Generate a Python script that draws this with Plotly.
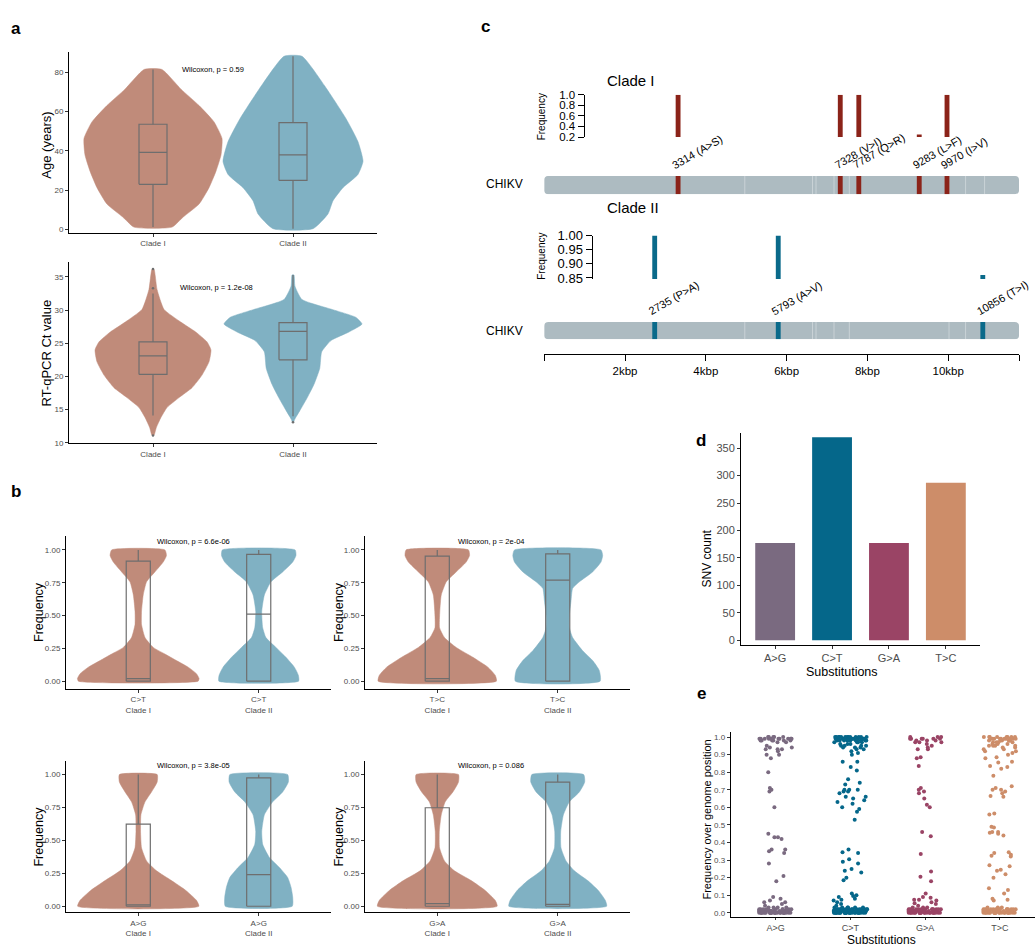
import plotly.graph_objects as go

W, H = 1035, 950
FONT = "Liberation Sans, Arial, Helvetica, sans-serif"
BROWN = "#C08B7A"
TEAL = "#80B1C3"
BOXLINE = "#6E6E6E"
TICKGRAY = "#4D4D4D"

# ---------------- panel a: age and Ct value per clade ----------------
CLADES = ["Clade I", "Clade II"]

# violin outlines: value levels (top to bottom) and half-width (density, category units)
AGE_LEVELS_I = [81.3, 71.3, 63.0, 54.7, 46.3, 38.0, 29.7, 21.3, 13.0, 6.3, 1.3]
AGE_DENS_I = [0.064, 0.20, 0.329, 0.436, 0.493, 0.486, 0.45, 0.40, 0.329, 0.214, 0.136]
AGE_LEVELS_II = [88.0, 73.0, 56.3, 44.7, 34.7, 28.0, 21.3, 14.7, 8.0, 0.5]
AGE_DENS_II = [0.064, 0.226, 0.379, 0.464, 0.50, 0.464, 0.357, 0.286, 0.25, 0.143]
AGE_Q1 = [23.0, 25.0]
AGE_MED = [39.2, 38.0]
AGE_Q3 = [53.5, 54.3]
AGE_LO = [1.3, 0.5]
AGE_HI = [81.3, 88.0]

CT_LEVELS_I = [36.2, 33.1, 30.1, 28.2, 26.7, 25.2, 24.0, 22.2, 20.2, 18.3, 16.8, 15.3, 13.8, 12.3, 11.1]
CT_DENS_I = [0.007, 0.029, 0.079, 0.198, 0.305, 0.386, 0.414, 0.40, 0.35, 0.279, 0.186, 0.10, 0.057, 0.024, 0.007]
CT_LEVELS_II = [35.3, 33.6, 31.6, 30.1, 28.9, 27.9, 26.7, 25.4, 23.7, 21.2, 18.8, 16.8, 14.8, 13.6, 13.1]
CT_DENS_II = [0.007, 0.014, 0.064, 0.279, 0.45, 0.493, 0.40, 0.271, 0.205, 0.191, 0.15, 0.102, 0.048, 0.014, 0.004]
CT_Q1 = [20.3, 22.5]
CT_MED = [23.1, 26.8]
CT_Q3 = [25.2, 28.1]
CT_LO = [14.1, 14.0]
CT_HI = [32.5, 35.3]
CT_OUT_I = [36.2, 33.3, 11.1]
CT_OUT_II = [13.1]

AGE_P = "Wilcoxon, p = 0.59"
CT_P = "Wilcoxon, p = 1.2e-08"

# ---------------- panel b: SNV frequency per substitution type ----------------
B_SUBS = ["C>T", "T>C", "A>G", "G>A"]
B_PVALS = ["Wilcoxon, p = 6.6e-06", "Wilcoxon, p = 2e-04", "Wilcoxon, p = 3.8e-05", "Wilcoxon, p = 0.086"]

CT_B_LEVELS_I = [1.0, 0.957, 0.907, 0.832, 0.757, 0.657, 0.532, 0.432, 0.332, 0.257, 0.207, 0.157, 0.107, 0.057, 0.02, 0.0]
CT_B_DENS_I = [0.221, 0.234, 0.207, 0.138, 0.069, 0.041, 0.027, 0.027, 0.056, 0.124, 0.221, 0.317, 0.414, 0.483, 0.505, 0.497]
CT_B_LEVELS_II = [1.0, 0.957, 0.907, 0.832, 0.757, 0.657, 0.532, 0.407, 0.332, 0.257, 0.182, 0.107, 0.045, 0.0]
CT_B_DENS_II = [0.302, 0.309, 0.282, 0.199, 0.102, 0.047, 0.025, 0.033, 0.06, 0.143, 0.226, 0.296, 0.329, 0.331]

TC_B_LEVELS_I = [1.0, 0.957, 0.907, 0.832, 0.757, 0.657, 0.532, 0.407, 0.332, 0.257, 0.182, 0.107, 0.045, 0.0]
TC_B_DENS_I = [0.259, 0.268, 0.24, 0.157, 0.075, 0.033, 0.021, 0.019, 0.06, 0.157, 0.296, 0.42, 0.481, 0.491]
TC_B_LEVELS_II = [1.0, 0.957, 0.907, 0.832, 0.757, 0.707, 0.607, 0.507, 0.407, 0.332, 0.232, 0.157, 0.082, 0.0]
TC_B_DENS_II = [0.359, 0.373, 0.359, 0.29, 0.18, 0.124, 0.11, 0.097, 0.097, 0.124, 0.207, 0.29, 0.345, 0.352]

AG_B_LEVELS_I = [1.0, 0.943, 0.868, 0.793, 0.694, 0.569, 0.444, 0.344, 0.269, 0.195, 0.12, 0.045, 0.0]
AG_B_DENS_I = [0.157, 0.157, 0.11, 0.056, 0.022, 0.019, 0.027, 0.069, 0.152, 0.276, 0.395, 0.483, 0.503]
AG_B_LEVELS_II = [1.0, 0.943, 0.868, 0.793, 0.694, 0.569, 0.47, 0.37, 0.294, 0.219, 0.145, 0.07, 0.0]
AG_B_DENS_II = [0.24, 0.246, 0.199, 0.116, 0.047, 0.025, 0.033, 0.089, 0.172, 0.24, 0.268, 0.282, 0.278]

GA_B_LEVELS_I = [1.0, 0.943, 0.868, 0.793, 0.694, 0.569, 0.444, 0.344, 0.269, 0.195, 0.12, 0.045, 0.0]
GA_B_DENS_I = [0.176, 0.176, 0.13, 0.066, 0.033, 0.017, 0.019, 0.06, 0.143, 0.282, 0.398, 0.481, 0.497]
GA_B_LEVELS_II = [1.0, 0.943, 0.868, 0.793, 0.694, 0.569, 0.444, 0.344, 0.269, 0.195, 0.12, 0.045, 0.0]
GA_B_DENS_II = [0.215, 0.224, 0.18, 0.097, 0.047, 0.025, 0.027, 0.069, 0.138, 0.249, 0.337, 0.395, 0.406]

# box statistics [Clade I, Clade II] per substitution
B_Q1 = {"C>T": [0.0, 0.0], "T>C": [0.0, 0.0], "A>G": [0.0, 0.0], "G>A": [0.0, 0.0]}
B_MED = {"C>T": [0.02, 0.51], "T>C": [0.02, 0.77], "A>G": [0.01, 0.24], "G>A": [0.02, 0.015]}
B_Q3 = {"C>T": [0.915, 0.965], "T>C": [0.953, 0.97], "A>G": [0.624, 0.975], "G>A": [0.748, 0.943]}
B_HI = {"C>T": [1.0, 1.0], "T>C": [1.0, 1.0], "A>G": [1.0, 1.0], "G>A": [1.0, 1.0]}

# ---------------- panel c: genome map of clade-defining SNVs ----------------
GENOME_LEN = 11752
GENE_BOUNDARIES = [4965, 6641, 6728, 7173, 7552, 10020, 10430, 10900]
CLADE1_POS = [3314, 7328, 7787, 9283, 9970]
CLADE1_AA = ["A>S", "V>I", "Q>R", "L>F", "I>V"]
CLADE1_FREQ = [1.0, 1.0, 1.0, 0.25, 1.0]
CLADE2_POS = [2735, 5793, 10856]
CLADE2_AA = ["P>A", "A>V", "T>I"]
CLADE2_FREQ = [1.0, 1.0, 0.86]
KB_TICKS = [0, 2000, 4000, 6000, 8000, 10000, GENOME_LEN]
KB_LABELS = ["", "2kbp", "4kbp", "6kbp", "8kbp", "10kbp", ""]

# ---------------- panel d/e: substitution spectrum ----------------
SUBS = ["A>G", "C>T", "G>A", "T>C"]
SUB_COLORS = ["#7A6A80", "#05678A", "#9A4465", "#CD8D69"]
SNV_COUNTS = [177, 370, 177, 287]

AG_FREQ = [
    1.00, 0.99, 0.99, 0.98, 0.99, 1.00, 0.98, 0.99, 0.97, 0.99, 1.00, 0.98,
    0.99, 0.99, 0.98, 0.97, 0.99, 1.00, 0.98, 0.99, 0.99, 0.98, 1.00, 0.99,
    0.95, 0.94, 0.93, 0.93, 0.92, 0.94, 0.90, 0.88, 0.90, 0.93,
    0.80, 0.71, 0.70, 0.69, 0.60,
    0.45, 0.43, 0.43, 0.42, 0.36, 0.36, 0.35, 0.34, 0.28,
    0.21, 0.18,
    0.09, 0.08, 0.07, 0.06, 0.06, 0.05, 0.04, 0.03, 0.03,
    0.02, 0.01, 0.00, 0.01, 0.00, 0.02, 0.01, 0.00, 0.00, 0.01,
    0.00, 0.01, 0.02, 0.00, 0.01, 0.00, 0.00, 0.02, 0.01, 0.00,
    0.01, 0.00, 0.00, 0.01, 0.03, 0.00, 0.01, 0.02, 0.00, 0.01,
    0.00, 0.01, 0.00, 0.02, 0.01, 0.00, 0.00, 0.01, 0.00, 0.01,
    0.02, 0.00, 0.01, 0.00, 0.00, 0.01, 0.02, 0.00, 0.01, 0.00,
    0.00, 0.01, 0.00, 0.03, 0.01, 0.00, 0.02, 0.00, 0.01, 0.00,
]
CT_FREQ = [
    1.00, 0.99, 1.00, 0.99, 0.98, 1.00, 0.99, 0.98, 0.97, 1.00, 0.99, 0.99,
    1.00, 0.98, 0.99, 0.96, 1.00, 0.99, 0.98, 0.99, 1.00, 0.97, 0.99, 0.98,
    1.00, 0.99, 0.95, 0.99, 1.00, 0.98, 0.94, 0.99, 1.00, 0.97, 0.95, 0.99,
    0.93, 0.98, 1.00, 0.96, 0.94, 0.99, 0.95, 0.98, 1.00, 0.99, 0.93, 0.97,
    0.99, 0.98, 1.00, 0.95, 0.96, 0.99, 0.94, 0.98,
    0.92, 0.91, 0.90, 0.86, 0.86, 0.83, 0.81,
    0.76, 0.74, 0.73, 0.70, 0.70, 0.70, 0.69, 0.69, 0.68, 0.66, 0.66, 0.65,
    0.64, 0.63, 0.62, 0.60, 0.59, 0.575, 0.53,
    0.36, 0.345, 0.34, 0.305, 0.29, 0.28, 0.25, 0.24, 0.23, 0.20, 0.185,
    0.11, 0.10, 0.095, 0.09, 0.08, 0.075, 0.07, 0.06, 0.05, 0.04, 0.03,
    0.00, 0.01, 0.02, 0.00, 0.01, 0.00, 0.03, 0.01, 0.02, 0.00,
    0.01, 0.00, 0.02, 0.01, 0.00, 0.00, 0.01, 0.02, 0.00, 0.01,
    0.02, 0.01, 0.00, 0.01, 0.03, 0.00, 0.02, 0.01, 0.00, 0.01,
    0.00, 0.02, 0.01, 0.00, 0.01, 0.02, 0.00, 0.01, 0.00, 0.02,
    0.01, 0.00, 0.03, 0.01, 0.00, 0.02, 0.01, 0.00, 0.01, 0.00,
    0.02, 0.00, 0.01, 0.00, 0.02, 0.01, 0.03, 0.00, 0.01, 0.02,
    0.00, 0.01, 0.00, 0.02, 0.01, 0.00, 0.01, 0.02, 0.00, 0.01,
    0.01, 0.00, 0.02, 0.01, 0.00, 0.03, 0.00, 0.01, 0.02, 0.00,
]
GA_FREQ = [
    1.00, 0.99, 0.99, 1.00, 0.98, 0.99, 0.99, 1.00, 0.98, 0.99, 0.97, 0.97,
    0.96, 0.97, 0.95, 0.93, 0.93, 0.94, 0.99, 0.98,
    0.885, 0.88, 0.835,
    0.71, 0.70, 0.69, 0.68, 0.65, 0.615, 0.60,
    0.46, 0.435, 0.335, 0.235, 0.205, 0.18,
    0.11, 0.09, 0.085, 0.075, 0.075, 0.07, 0.06, 0.055, 0.05, 0.04,
    0.00, 0.01, 0.02, 0.00, 0.01, 0.00, 0.03, 0.01, 0.02, 0.00,
    0.01, 0.00, 0.02, 0.01, 0.00, 0.00, 0.01, 0.02, 0.00, 0.01,
    0.02, 0.01, 0.00, 0.01, 0.03, 0.00, 0.02, 0.01, 0.00, 0.01,
    0.00, 0.02, 0.01, 0.00, 0.01, 0.02, 0.00, 0.01, 0.00, 0.02,
    0.01, 0.00, 0.03, 0.01, 0.00, 0.02, 0.01, 0.00, 0.01, 0.00,
    0.02, 0.00, 0.01, 0.00, 0.02, 0.01, 0.00, 0.00, 0.01, 0.02,
]
TC_FREQ = [
    1.00, 0.99, 0.98, 1.00, 0.99, 0.97, 0.99, 1.00, 0.98, 0.99, 0.96, 1.00,
    0.99, 0.98, 0.95, 0.99, 1.00, 0.97, 0.94, 0.99, 0.98, 1.00, 0.96, 0.95,
    0.99, 0.93, 0.97, 1.00, 0.99, 0.92, 0.98, 0.95, 0.94, 0.99, 0.91, 0.97,
    1.00, 0.96, 0.93, 0.98, 0.90, 0.99, 0.95, 0.92,
    0.88, 0.885, 0.86, 0.855, 0.835, 0.83, 0.82, 0.78,
    0.72, 0.71, 0.70, 0.70, 0.69, 0.68, 0.665, 0.66,
    0.565, 0.56, 0.49, 0.485, 0.46, 0.46, 0.455, 0.45, 0.44,
    0.345, 0.34, 0.33, 0.325, 0.32, 0.27, 0.265, 0.245, 0.24, 0.22, 0.20,
    0.14, 0.13, 0.11, 0.08, 0.075, 0.07,
    0.00, 0.01, 0.02, 0.00, 0.01, 0.00, 0.03, 0.01, 0.02, 0.00,
    0.01, 0.00, 0.02, 0.01, 0.00, 0.00, 0.01, 0.02, 0.00, 0.01,
    0.02, 0.01, 0.00, 0.01, 0.03, 0.00, 0.02, 0.01, 0.00, 0.01,
    0.00, 0.02, 0.01, 0.00, 0.01, 0.02, 0.00, 0.01, 0.00, 0.02,
    0.01, 0.00, 0.03, 0.01, 0.00, 0.02, 0.01, 0.00, 0.01, 0.00,
    0.02, 0.00, 0.01, 0.00, 0.02, 0.01, 0.00, 0.00, 0.01, 0.02,
]
E_VALUES = [AG_FREQ, CT_FREQ, GA_FREQ, TC_FREQ]


# ---------------- helpers ----------------
def px(x):
    return x / W


def py(y):
    return 1 - y / H


def dom_x(a, b):
    return [px(a), px(b)]


def dom_y(top, bottom):
    return [py(bottom), py(top)]


def violin_xy(center, levels, dens):
    xs = [center + d for d in dens] + [center - d for d in reversed(dens)]
    ys = list(levels) + list(reversed(levels))
    xs.append(xs[0])
    ys.append(ys[0])
    return xs, ys


def axis_style(**kw):
    base = dict(showline=True, linecolor="black", linewidth=1, ticks="outside",
                ticklen=3, tickwidth=1, tickcolor="#333333", showgrid=False,
                zeroline=False, fixedrange=True,
                tickfont=dict(family=FONT, size=8, color=TICKGRAY))
    base.update(kw)
    return base


fig = go.Figure()
annotations = []
shapes = []


def label(x, y, text, size, color="black", angle=0, xanchor="center", yanchor="middle"):
    annotations.append(dict(x=px(x), y=py(y), xref="paper", yref="paper", text=text,
                            showarrow=False, textangle=angle, xanchor=xanchor, yanchor=yanchor,
                            font=dict(family=FONT, size=size, color=color)))


def add_violins(axis_id, shapes_list, colors):
    for i, (levels, dens) in enumerate(shapes_list):
        xs, ys = violin_xy(i, levels, dens)
        fig.add_trace(go.Scatter(
            x=xs, y=ys, mode="lines", fill="toself", fillcolor=colors[i],
            line=dict(color=colors[i], width=0.5, shape="spline", smoothing=0.5),
            xaxis="x" + axis_id, yaxis="y" + axis_id, hoverinfo="skip"))


BOX_HALF = 0.1


def add_box(axis_id, q1, med, q3, lo, hi):
    # box-and-whisker outline drawn on top of the violins
    xs, ys = [], []
    for i in range(len(q1)):
        l, r = i - BOX_HALF, i + BOX_HALF
        xs += [l, r, r, l, l, None, l, r, None, i, i, None, i, i, None]
        ys += [q1[i], q1[i], q3[i], q3[i], q1[i], None, med[i], med[i], None,
               q3[i], hi[i], None, lo[i], q1[i], None]
    fig.add_trace(go.Scatter(x=xs, y=ys, mode="lines", line=dict(color=BOXLINE, width=1.2),
                             xaxis="x" + axis_id, yaxis="y" + axis_id, hoverinfo="skip",
                             connectgaps=False))


# ---------------- panel a ----------------
add_violins("", [(AGE_LEVELS_I, AGE_DENS_I), (AGE_LEVELS_II, AGE_DENS_II)], [BROWN, TEAL])
add_box("", AGE_Q1, AGE_MED, AGE_Q3, AGE_LO, AGE_HI)

add_violins("2", [(CT_LEVELS_I, CT_DENS_I), (CT_LEVELS_II, CT_DENS_II)], [BROWN, TEAL])
add_box("2", CT_Q1, CT_MED, CT_Q3, CT_LO, CT_HI)
for i, outs in enumerate([CT_OUT_I, CT_OUT_II]):
    fig.add_trace(go.Scatter(x=[i] * len(outs), y=outs, mode="markers",
                             marker=dict(color=BOXLINE, size=2.5),
                             xaxis="x2", yaxis="y2", hoverinfo="skip"))

# ---------------- panel b ----------------
B_SHAPES = {
    "C>T": [(CT_B_LEVELS_I, CT_B_DENS_I), (CT_B_LEVELS_II, CT_B_DENS_II)],
    "T>C": [(TC_B_LEVELS_I, TC_B_DENS_I), (TC_B_LEVELS_II, TC_B_DENS_II)],
    "A>G": [(AG_B_LEVELS_I, AG_B_DENS_I), (AG_B_LEVELS_II, AG_B_DENS_II)],
    "G>A": [(GA_B_LEVELS_I, GA_B_DENS_I), (GA_B_LEVELS_II, GA_B_DENS_II)],
}
for k, sub in enumerate(B_SUBS):
    aid = str(3 + k)
    add_violins(aid, B_SHAPES[sub], [BROWN, TEAL])
    add_box(aid, B_Q1[sub], B_MED[sub], B_Q3[sub], B_Q1[sub], B_HI[sub])

# ---------------- panel d ----------------
fig.add_trace(go.Bar(x=SUBS, y=SNV_COUNTS, marker=dict(color=SUB_COLORS, line=dict(width=0)),
                     width=0.7, xaxis="x7", yaxis="y7", hoverinfo="skip"))

# ---------------- panel e ----------------
for name, vals, col in zip(SUBS, E_VALUES, SUB_COLORS):
    fig.add_trace(go.Box(
        x=[name] * len(vals), y=vals, boxpoints="all", jitter=0.9, pointpos=0,
        width=0.5, fillcolor="rgba(0,0,0,0)", line=dict(color="rgba(0,0,0,0)", width=0),
        marker=dict(color=col, size=4), xaxis="x8", yaxis="y8", hoverinfo="skip"))

# ---------------- panel c ----------------
RED = "#8B2319"
BLUE = "#0A6A8A"
TRACK = "#ADBBC1"
BAR_W = 120

fig.add_trace(go.Bar(x=CLADE1_POS, y=CLADE1_FREQ, width=BAR_W, marker=dict(color=RED, line=dict(width=0)),
                     xaxis="x9", yaxis="y9", hoverinfo="skip"))
fig.add_trace(go.Bar(x=CLADE1_POS, y=[1] * len(CLADE1_POS), width=BAR_W,
                     marker=dict(color=RED, line=dict(width=0)),
                     xaxis="x9", yaxis="y10", hoverinfo="skip"))
fig.add_trace(go.Bar(x=CLADE2_POS, y=CLADE2_FREQ, width=BAR_W, marker=dict(color=BLUE, line=dict(width=0)),
                     xaxis="x9", yaxis="y11", hoverinfo="skip"))
fig.add_trace(go.Bar(x=CLADE2_POS, y=[1] * len(CLADE2_POS), width=BAR_W,
                     marker=dict(color=BLUE, line=dict(width=0)),
                     xaxis="x9", yaxis="y12", hoverinfo="skip"))


def rounded_track(yref, rx, ry):
    x0, x1, y0, y1 = 0, GENOME_LEN, 0, 1
    path = (f"M {x0 + rx},{y0} L {x1 - rx},{y0} Q {x1},{y0} {x1},{y0 + ry} "
            f"L {x1},{y1 - ry} Q {x1},{y1} {x1 - rx},{y1} L {x0 + rx},{y1} "
            f"Q {x0},{y1} {x0},{y1 - ry} L {x0},{y0 + ry} Q {x0},{y0} {x0 + rx},{y0} Z")
    return dict(type="path", path=path, xref="x9", yref=yref, fillcolor=TRACK,
                line=dict(width=0), layer="below")


for yref in ["y10", "y12"]:
    shapes.append(rounded_track(yref, 110, 0.22))
    for b in GENE_BOUNDARIES:
        shapes.append(dict(type="line", x0=b, x1=b, y0=0, y1=1, xref="x9", yref=yref,
                           line=dict(color="rgba(255,255,255,0.35)", width=1), layer="below"))

for pos, aa in zip(CLADE1_POS, CLADE1_AA):
    annotations.append(dict(x=pos, xref="x9", y=py(169), yref="paper", text=f"{pos} ({aa})",
                            textangle=-30, xanchor="left", yanchor="bottom", xshift=-11,
                            showarrow=False, font=dict(family=FONT, size=11, color="black")))
for pos, aa in zip(CLADE2_POS, CLADE2_AA):
    annotations.append(dict(x=pos, xref="x9", y=py(318), yref="paper", text=f"{pos} ({aa})",
                            textangle=-30, xanchor="left", yanchor="bottom", xshift=-11,
                            showarrow=False, font=dict(family=FONT, size=11, color="black")))

label(605, 75, "Clade I", 15, xanchor="left")
label(605, 204, "Clade II", 15, xanchor="left")
label(541.5, 111.5, "Frequency", 10, angle=-90)
label(541.5, 253, "Frequency", 10, angle=-90)
label(484, 180, "CHIKV", 12, xanchor="left")
label(484, 328.5, "CHIKV", 12, xanchor="left")

# ---------------- titles and annotations ----------------
label(16, 22, "<b>a</b>", 17)
label(16, 492, "<b>b</b>", 17)
label(485, 20, "<b>c</b>", 17)
label(701, 440, "<b>d</b>", 17)
label(701, 697, "<b>e</b>", 17)

label(46.7, 140, "Age (years)", 13, angle=-90)
label(46.7, 351, "RT-qPCR Ct value", 13, angle=-90)
label(213, 63, AGE_P, 7.5)
label(216.7, 284.3, CT_P, 7.5)

B_POS = [(66, 331, 537, 692), (365, 630, 537, 692), (66, 331, 765, 919), (365, 630, 765, 919)]
B_TITLE = [(39, 614), (339, 614), (39, 842), (339, 842)]
B_PLAB = [(193.3, 542.7), (491, 542.7), (193.3, 770), (491, 770)]
for k in range(4):
    label(B_TITLE[k][0], B_TITLE[k][1], "Frequency", 12.5, angle=-90)
    label(B_PLAB[k][0], B_PLAB[k][1], B_PVALS[k], 7.5)

label(706.7, 560, "SNV count", 12, angle=-90)
label(842.3, 675, "Substitutions", 12.5)
label(706.7, 825, "Frequency over genome position", 11, angle=-90)
label(881.7, 946.5, "Substitutions", 12)

# ---------------- axes ----------------
layout_axes = {}
layout_axes["xaxis"] = axis_style(domain=dom_x(69, 377), range=[-0.6, 1.6], tickvals=[0, 1],
                                  ticktext=CLADES, anchor="y")
layout_axes["yaxis"] = axis_style(domain=dom_y(46, 229), range=[-1.5, 90], tickvals=[0, 20, 40, 60, 80],
                                  anchor="x")
layout_axes["xaxis2"] = axis_style(domain=dom_x(69, 377), range=[-0.6, 1.6], tickvals=[0, 1],
                                   ticktext=CLADES, anchor="y2")
layout_axes["yaxis2"] = axis_style(domain=dom_y(259.3, 442.7), range=[9.93, 37.18],
                                   tickvals=[10, 15, 20, 25, 30, 35], anchor="x2")
B_YRANGE = [[-0.058, 1.105], [-0.058, 1.105], [-0.047, 1.105], [-0.047, 1.105]]
for k, sub in enumerate(B_SUBS):
    aid = str(3 + k)
    x0, x1, y0, y1 = B_POS[k]
    layout_axes["xaxis" + aid] = axis_style(
        domain=dom_x(x0, x1), range=[-0.6, 1.6], tickvals=[0, 1],
        ticktext=[f"{sub}<br>{c}" for c in CLADES], anchor="y" + aid)
    layout_axes["yaxis" + aid] = axis_style(
        domain=dom_y(y0, y1), range=B_YRANGE[k], tickvals=[0, 0.25, 0.5, 0.75, 1.0],
        ticktext=["0.00", "0.25", "0.50", "0.75", "1.00"], anchor="x" + aid)

layout_axes["xaxis7"] = axis_style(domain=dom_x(741, 980), range=[-0.6, 3.6], type="category",
                                   categoryorder="array", categoryarray=SUBS, anchor="y7",
                                   tickfont=dict(family=FONT, size=11, color=TICKGRAY))
layout_axes["yaxis7"] = axis_style(domain=dom_y(432.7, 647.7), range=[-9, 377],
                                   tickvals=[0, 50, 100, 150, 200, 250, 300, 350], anchor="x7",
                                   tickfont=dict(family=FONT, size=11, color=TICKGRAY))
layout_axes["xaxis8"] = axis_style(domain=dom_x(730.7, 1035), range=[-0.6, 3.47], type="category",
                                   categoryorder="array", categoryarray=SUBS, anchor="y8", ticklen=2,
                                   tickfont=dict(family=FONT, size=9, color=TICKGRAY))
layout_axes["yaxis8"] = axis_style(domain=dom_y(736, 924), range=[-0.026, 1.028],
                                   tickvals=[i / 10 for i in range(11)],
                                   ticktext=[f"{i / 10:.1f}" for i in range(11)], anchor="x8")

layout_axes["xaxis9"] = dict(domain=dom_x(544.2, 1019), range=[0, GENOME_LEN], anchor="free",
                             position=py(352), showline=True, linecolor="black", linewidth=1,
                             ticks="outside", ticklen=6, tickcolor="black", tickvals=KB_TICKS,
                             ticktext=KB_LABELS, showgrid=False, zeroline=False, fixedrange=True,
                             tickfont=dict(family=FONT, size=11.5, color="black"))
layout_axes["yaxis9"] = dict(domain=dom_y(89, 132), range=[0.2, 1.0], anchor="free", position=px(583.5),
                             showline=True, linecolor="black", linewidth=1, ticks="outside", ticklen=6,
                             tickcolor="black", tickvals=[0.2, 0.4, 0.6, 0.8, 1.0],
                             ticktext=["0.2", "0.4", "0.6", "0.8", "1.0"], showgrid=False,
                             zeroline=False, fixedrange=True,
                             tickfont=dict(family=FONT, size=11.5, color="black"))
layout_axes["yaxis10"] = dict(domain=dom_y(171.5, 190), range=[0, 1], anchor="free", position=0,
                              visible=False, fixedrange=True)
layout_axes["yaxis11"] = dict(domain=dom_y(232, 276), range=[0.8465, 1.0], anchor="free",
                              position=px(591.5), showline=True, linecolor="black", linewidth=1,
                              ticks="outside", ticklen=6, tickcolor="black",
                              tickvals=[0.85, 0.9, 0.95, 1.0], ticktext=["0.85", "0.90", "0.95", "1.00"],
                              showgrid=False, zeroline=False, fixedrange=True,
                              tickfont=dict(family=FONT, size=13, color="black"))
layout_axes["yaxis12"] = dict(domain=dom_y(319.8, 337.3), range=[0, 1], anchor="free", position=0,
                              visible=False, fixedrange=True)

fig.update_layout(
    width=W, height=H, margin=dict(l=0, r=0, t=0, b=0), autosize=False,
    plot_bgcolor="white", paper_bgcolor="white", showlegend=False,
    boxmode="overlay", barmode="overlay",
    font=dict(family=FONT),
    annotations=annotations, shapes=shapes,
    **layout_axes,
)

fig.write_html("out.html", config={"displayModeBar": False})
